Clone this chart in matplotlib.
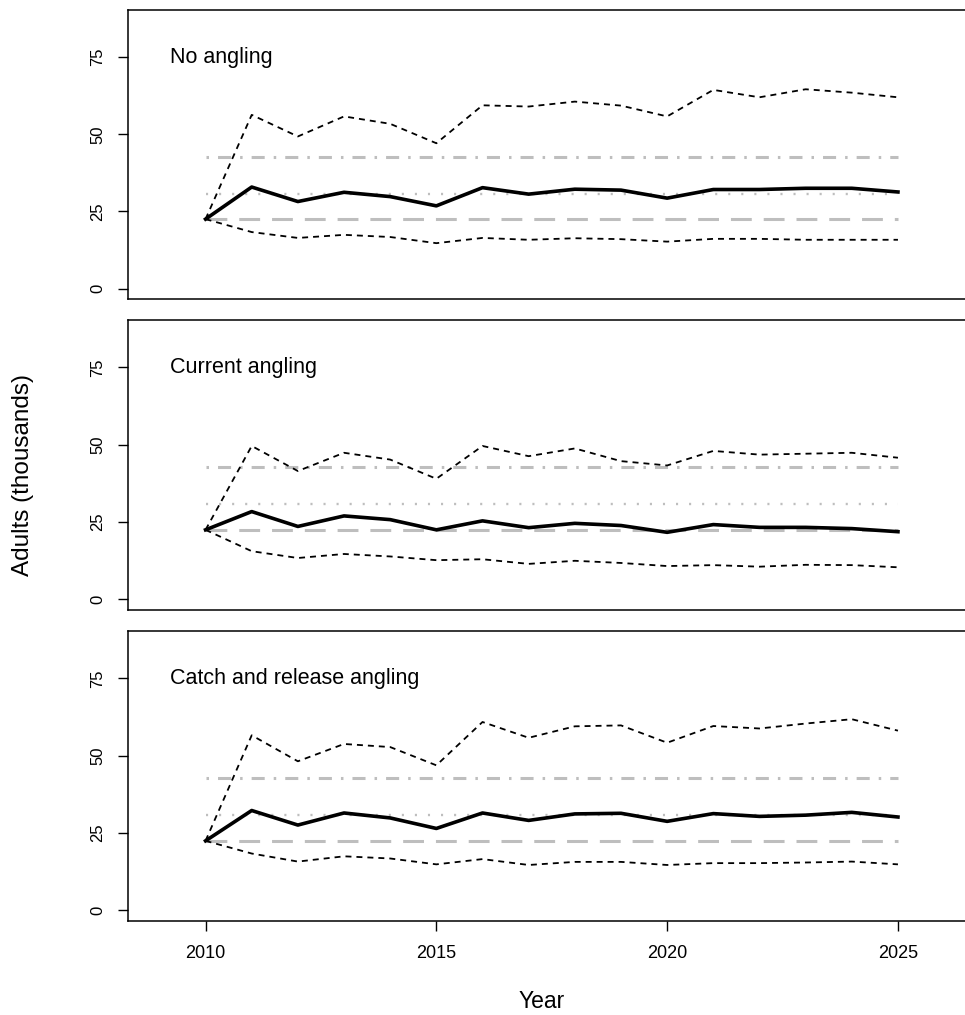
import matplotlib
matplotlib.use("Agg")
import matplotlib.pyplot as plt
import numpy as np

plt.rcParams['font.family'] = ['Liberation Sans', 'DejaVu Sans']
plt.rcParams['lines.scale_dashes'] = False

years = list(range(2010, 2026))
panel_titles = ["No angling", "Current angling", "Catch and release angling"]

mean_no = [22.5, 32.9, 28.2, 31.2, 29.8, 26.8, 32.7, 30.6, 32.2, 31.9, 29.3, 32.1, 32.1, 32.5, 32.5, 31.3]
upper_no = [22.5, 56.3, 49.3, 55.8, 53.4, 47.1, 59.4, 59.0, 60.6, 59.3, 55.8, 64.4, 62.0, 64.6, 63.5, 62.0]
lower_no = [22.5, 18.3, 16.4, 17.4, 16.7, 14.7, 16.4, 15.8, 16.3, 16.0, 15.2, 16.1, 16.1, 15.8, 15.8, 15.8]

mean_cur = [22.5, 28.4, 23.6, 27.0, 25.8, 22.5, 25.4, 23.2, 24.6, 23.9, 21.7, 24.2, 23.3, 23.3, 22.9, 21.9]
upper_cur = [22.5, 49.6, 41.5, 47.4, 45.2, 39.0, 49.6, 46.3, 48.8, 44.7, 43.3, 48.0, 46.8, 47.1, 47.4, 45.8]
lower_cur = [22.5, 15.6, 13.4, 14.7, 13.9, 12.7, 13.0, 11.5, 12.5, 11.8, 10.8, 11.1, 10.6, 11.2, 11.1, 10.4]

mean_cr = [22.5, 32.3, 27.6, 31.5, 29.9, 26.5, 31.5, 29.1, 31.2, 31.4, 28.8, 31.3, 30.4, 30.8, 31.7, 30.2]
upper_cr = [22.5, 56.6, 48.2, 53.8, 52.8, 46.9, 60.9, 55.8, 59.5, 59.8, 54.2, 59.6, 58.8, 60.4, 61.8, 58.1]
lower_cr = [22.5, 18.4, 15.8, 17.5, 16.8, 14.9, 16.6, 14.7, 15.7, 15.7, 14.7, 15.3, 15.3, 15.5, 15.8, 14.9]

ref_dashed = 22.5
ref_dotted = 30.8
ref_dotdash = 42.7
ref_x = [2010, 2025]

y_ticks = [0, 25, 50, 75]
x_ticks = [2010, 2015, 2020, 2025]

means = [mean_no, mean_cur, mean_cr]
uppers = [upper_no, upper_cur, upper_cr]
lowers = [lower_no, lower_cur, lower_cr]

W, H = 965, 1015
fig = plt.figure(figsize=(W / 100, H / 100), dpi=100)

left_px, right_px = 128, 975.5
panels_px = [(10, 299), (320, 610), (631, 921)]
grey = "#BEBEBE"

for i, (top, bot) in enumerate(panels_px):
    ax = fig.add_axes([left_px / W, 1 - bot / H, (right_px - left_px) / W, (bot - top) / H])
    ax.set_xlim(2008.32, 2026.68)
    ax.set_ylim(-3.4, 90.3)
    # reference lines
    ax.plot(ref_x, [ref_dotdash] * 2, color=grey, lw=2.2, linestyle=(0, (1.8, 6.5, 9.4, 6.5)))
    ax.plot(ref_x, [ref_dotted] * 2, color=grey, lw=1.7, linestyle=(0, (1.5, 7.9)))
    ax.plot(ref_x, [ref_dashed] * 2, color=grey, lw=2.2, linestyle=(0, (15.0, 8.6)))
    # intervals and mean
    ax.plot(years, uppers[i], color="black", lw=1.3, linestyle=(0, (4.3, 3.6)))
    ax.plot(years, lowers[i], color="black", lw=1.3, linestyle=(0, (4.3, 3.6)))
    ax.plot(years, means[i], color="black", lw=2.6, solid_joinstyle='round')

    ax.text(2009.22, 73.2, panel_titles[i], fontsize=15.5, va='baseline', ha='left')

    ax.set_yticks(y_ticks)
    ax.set_yticklabels([str(t) for t in y_ticks], rotation=90, va='center', fontsize=12)
    ax.tick_params(axis='y', length=7.2, width=1.0, pad=9)
    if i == 2:
        ax.set_xticks(x_ticks)
        ax.set_xticklabels([str(t) for t in x_ticks], fontsize=13)
        ax.tick_params(axis='x', length=7.2, width=1.0, pad=10)
    else:
        ax.set_xticks([])
    for s in ax.spines.values():
        s.set_linewidth(1.1)

fig.text(541.5 / W, 1 - 1008 / H, "Year", ha='center', va='baseline', fontsize=16.5)
fig.text(23 / W, 1 - 475 / H, "Adults (thousands)", ha='center', va='center', rotation=90, fontsize=17.5)

fig.savefig("out.png", dpi=100)
